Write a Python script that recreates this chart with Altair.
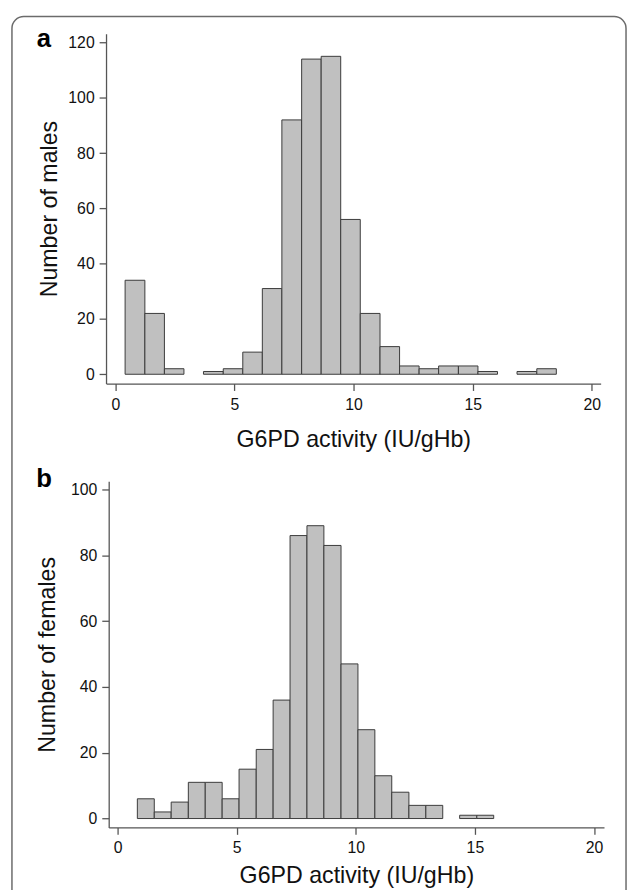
import altair as alt
import pandas as pd

# ---- data ----
male_edges = [0.41, 1.24, 2.06, 2.88, 3.70, 4.53, 5.35, 6.17, 6.99, 7.82, 8.64, 9.46,
              10.28, 11.11, 11.93, 12.75, 13.57, 14.40, 15.22, 16.04, 16.86, 17.69, 18.51]
male_counts = [34, 22, 2, 0, 1, 2, 8, 31, 92, 114, 115, 56, 22, 10, 3, 2, 3, 3, 1, 0, 1, 2]

female_edges = [0.83, 1.54, 2.25, 2.97, 3.68, 4.39, 5.10, 5.82, 6.53, 7.24, 7.95, 8.66,
                9.38, 10.09, 10.80, 11.51, 12.23, 12.94, 13.65, 14.36, 15.08, 15.79]
female_counts = [6, 2, 5, 11, 11, 6, 15, 21, 36, 86, 89, 83, 47, 27, 13, 8, 4, 4, 0, 1, 1]

x_ticks = [0, 5, 10, 15, 20]
male_y_ticks = [0, 20, 40, 60, 80, 100, 120]
female_y_ticks = [0, 20, 40, 60, 80, 100]

x_title = "G6PD activity (IU/gHb)"
FONT = "Liberation Sans"
AXIS_COLOR = "#555555"
FRAME_COLOR = "#6b6b6b"

W, H = 628, 882  # whole drawing (autosize none, padding 0)


def bins_df(edges, counts):
    rows = [dict(lo=edges[i], hi=edges[i + 1], n=c) for i, c in enumerate(counts) if c > 0]
    return pd.DataFrame(rows)


def hist(edges, counts, y_ticks, y_title, xdom, xrange, ydom, yrange,
         ytitle_x, xtitle_y, xlabel_pad):
    df = bins_df(edges, counts)
    axis_common = dict(grid=False, domainColor=AXIS_COLOR, domainWidth=1.3,
                       tickColor=AXIS_COLOR, tickWidth=1.3, tickSize=7,
                       labelFont=FONT, labelFontSize=16, labelColor="#111111",
                       titleFont=FONT, titleFontSize=23.5, titleFontWeight="normal",
                       titleColor="#111111", format="d")
    return alt.Chart(df).mark_rect(fill="#c0c0c0", stroke="#3a3a3a", strokeWidth=1).encode(
        x=alt.X("lo:Q",
                scale=alt.Scale(domain=xdom, range=xrange, nice=False, zero=False),
                axis=alt.Axis(values=x_ticks, title=x_title, orient="bottom",
                              offset=yrange[0] - H, labelPadding=xlabel_pad,
                              titleY=xtitle_y, titleBaseline="alphabetic", **axis_common)),
        x2="hi:Q",
        y=alt.Y("n:Q",
                scale=alt.Scale(domain=ydom, range=yrange, nice=False, zero=False),
                axis=alt.Axis(values=y_ticks, title=y_title, orient="left",
                              offset=-xrange[0], labelPadding=5,
                              titleX=ytitle_x, titleY=(yrange[0] + yrange[1]) / 2,
                              titleAngle=270, titleAlign="center", titleBaseline="alphabetic",
                              **axis_common)),
        y2=alt.datum(0),
    )


one = alt.Chart(pd.DataFrame({"k": [0]}))

frame = one.mark_rect(fill="white", fillOpacity=0, stroke=FRAME_COLOR, strokeWidth=1.5,
                      cornerRadius=12).encode(
    x=alt.value(4), x2=alt.value(626), y=alt.value(3), y2=alt.value(930))

top = hist(male_edges, male_counts, male_y_ticks, "Number of males",
           xdom=[-0.39, 20.37], xrange=[99.3, 600.3],
           ydom=[-3.36, 123.2], yrange=[374.7, 20.3],
           ytitle_x=-50.5, xtitle_y=64.1, xlabel_pad=6)

bottom = hist(female_edges, female_counts, female_y_ticks, "Number of females",
              xdom=[-0.373, 20.42], xrange=[102, 603.7],
              ydom=[-2.7, 102.5], yrange=[824.3, 473.7],
              ytitle_x=-55.2, xtitle_y=56.2, xlabel_pad=5)

lab_a = one.mark_text(text="a", font=FONT, fontSize=26, fontWeight="bold",
                      align="left", baseline="alphabetic", color="#000000").encode(
    x=alt.value(29), y=alt.value(33.7))
lab_b = one.mark_text(text="b", font=FONT, fontSize=26, fontWeight="bold",
                      align="left", baseline="alphabetic", color="#000000").encode(
    x=alt.value(28.7), y=alt.value(479))

chart = alt.layer(frame, top, bottom, lab_a, lab_b).resolve_scale(
    x="independent", y="independent"
).resolve_axis(
    x="independent", y="independent"
).properties(
    width=W, height=H, padding=0,
    autosize=alt.AutoSizeParams(type="none"),
    background="white",
).configure_view(stroke=None)

chart.save("out.html", embed_options={"renderer": "svg", "actions": False})
